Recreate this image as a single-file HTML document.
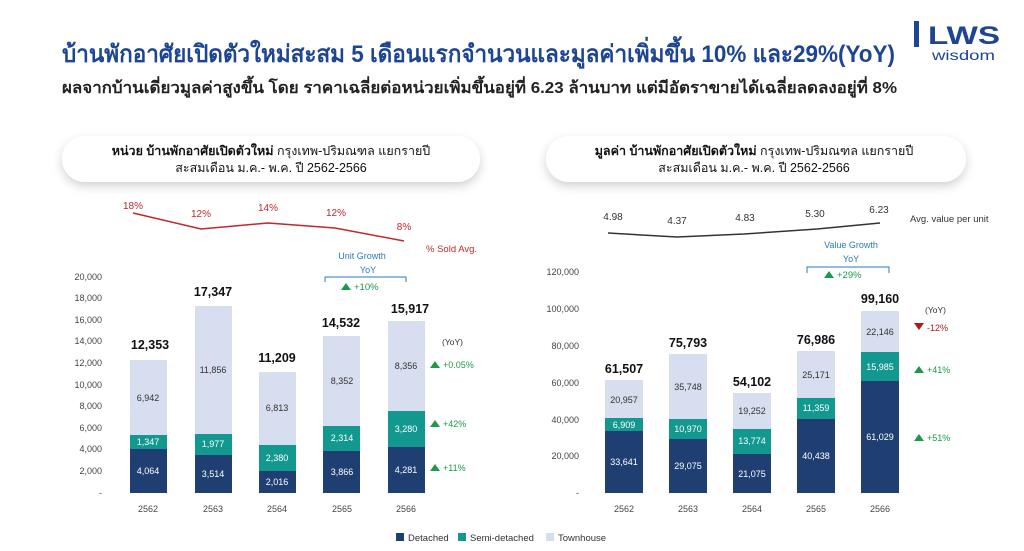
<!DOCTYPE html>
<html><head><meta charset="utf-8"><style>
html,body{margin:0;padding:0;background:#fff;}
svg{display:block;font-family:"Liberation Sans","DejaVu Sans",sans-serif;}
</style></head><body>
<svg width="1024" height="551" viewBox="0 0 1024 551" xmlns="http://www.w3.org/2000/svg">
<defs>
<filter id="sh" x="-10%" y="-40%" width="120%" height="200%"><feDropShadow dx="0" dy="4" stdDeviation="5" flood-color="#000" flood-opacity="0.18"/></filter>
</defs>
<rect width="1024" height="551" fill="#fff"/>
<!-- header -->
<text x="62" y="62" font-size="24" font-weight="bold" fill="#1d4593" textLength="833" lengthAdjust="spacingAndGlyphs">บ้านพักอาศัยเปิดตัวใหม่สะสม 5 เดือนแรกจำนวนและมูลค่าเพิ่มขึ้น 10% และ29%(YoY)</text>
<text x="62" y="93" font-size="16" font-weight="bold" fill="#222" textLength="835" lengthAdjust="spacingAndGlyphs">ผลจากบ้านเดี่ยวมูลค่าสูงขึ้น โดย ราคาเฉลี่ยต่อหน่วยเพิ่มขึ้นอยู่ที่ 6.23 ล้านบาท แต่มีอัตราขายได้เฉลี่ยลดลงอยู่ที่ 8%</text>
<rect x="914" y="21" width="5" height="26" fill="#1d4593"/>
<text x="928" y="44" font-size="25" font-weight="bold" fill="#1d4593" textLength="72" lengthAdjust="spacingAndGlyphs">LWS</text>
<text x="932" y="60" font-size="14" fill="#1d4593" textLength="63" lengthAdjust="spacingAndGlyphs">wisdom</text>

<!-- title boxes -->
<rect x="62" y="136" width="418" height="46" rx="23" fill="#fff" filter="url(#sh)"/>
<text x="271" y="155" font-size="12.5" text-anchor="middle" fill="#111"><tspan font-weight="bold">หน่วย บ้านพักอาศัยเปิดตัวใหม่</tspan> กรุงเทพ-ปริมณฑล แยกรายปี</text>
<text x="271" y="172" font-size="12.5" text-anchor="middle" fill="#111">สะสมเดือน ม.ค.- พ.ค. ปี 2562-2566</text>
<rect x="546" y="136" width="420" height="46" rx="23" fill="#fff" filter="url(#sh)"/>
<text x="754" y="155" font-size="12.5" text-anchor="middle" fill="#111"><tspan font-weight="bold">มูลค่า บ้านพักอาศัยเปิดตัวใหม่</tspan> กรุงเทพ-ปริมณฑล แยกรายปี</text>
<text x="754" y="172" font-size="12.5" text-anchor="middle" fill="#111">สะสมเดือน ม.ค.- พ.ค. ปี 2562-2566</text>

<!-- LEFT CHART -->
<g font-size="9" fill="#444" text-anchor="end">
<text x="102" y="280">20,000</text><text x="102" y="301">18,000</text><text x="102" y="323">16,000</text>
<text x="102" y="344">14,000</text><text x="102" y="366">12,000</text><text x="102" y="388">10,000</text>
<text x="102" y="409">8,000</text><text x="102" y="431">6,000</text><text x="102" y="452">4,000</text>
<text x="102" y="474">2,000</text><text x="102" y="496">-</text>
</g>
<polyline points="133,213 201,229 268,223 335,228 404,241" fill="none" stroke="#c0282d" stroke-width="1.5"/>
<g font-size="10" fill="#c0282d" text-anchor="middle">
<text x="133" y="209">18%</text><text x="201" y="217">12%</text><text x="268" y="211">14%</text><text x="336" y="216">12%</text><text x="404" y="230">8%</text>
</g>
<text x="426" y="252" font-size="9.5" fill="#c0282d">% Sold Avg.</text>
<text x="362" y="259" font-size="9" fill="#2a7ab8" text-anchor="middle">Unit Growth</text>
<text x="368" y="273" font-size="9" fill="#2a7ab8" text-anchor="middle">YoY</text>
<path d="M325,282 V277 H406 V282" fill="none" stroke="#2a7ab8" stroke-width="1"/>
<polygon points="341,290 346,283 351,290" fill="#1a9a4a"/>
<text x="354" y="290" font-size="9.5" fill="#1a9a4a">+10%</text>

<g>
<rect x="130" y="449" width="37" height="44" fill="#1f3f73"/>
<rect x="130" y="435" width="37" height="14" fill="#12988f"/>
<rect x="130" y="360" width="37" height="75" fill="#d6deef"/>
<rect x="195" y="455" width="37" height="38" fill="#1f3f73"/>
<rect x="195" y="434" width="37" height="21" fill="#12988f"/>
<rect x="195" y="306" width="37" height="128" fill="#d6deef"/>
<rect x="259" y="471" width="37" height="22" fill="#1f3f73"/>
<rect x="259" y="445" width="37" height="26" fill="#12988f"/>
<rect x="259" y="372" width="37" height="73" fill="#d6deef"/>
<rect x="323" y="451" width="37" height="42" fill="#1f3f73"/>
<rect x="323" y="426" width="37" height="25" fill="#12988f"/>
<rect x="323" y="336" width="37" height="90" fill="#d6deef"/>
<rect x="388" y="447" width="37" height="46" fill="#1f3f73"/>
<rect x="388" y="411" width="37" height="36" fill="#12988f"/>
<rect x="388" y="321" width="37" height="90" fill="#d6deef"/>
</g>
<g font-size="9" text-anchor="middle">
<text x="148" y="474" fill="#fff">4,064</text><text x="148" y="445" fill="#fff">1,347</text><text x="148" y="401" fill="#333">6,942</text>
<text x="213" y="477" fill="#fff">3,514</text><text x="213" y="447" fill="#fff">1,977</text><text x="213" y="373" fill="#333">11,856</text>
<text x="277" y="485" fill="#fff">2,016</text><text x="277" y="461" fill="#fff">2,380</text><text x="277" y="411" fill="#333">6,813</text>
<text x="342" y="475" fill="#fff">3,866</text><text x="342" y="441" fill="#fff">2,314</text><text x="342" y="384" fill="#333">8,352</text>
<text x="406" y="473" fill="#fff">4,281</text><text x="406" y="432" fill="#fff">3,280</text><text x="406" y="369" fill="#333">8,356</text>
</g>
<g font-size="12.5" font-weight="bold" fill="#111" text-anchor="middle">
<text x="150" y="349">12,353</text><text x="213" y="296">17,347</text><text x="277" y="362">11,209</text>
<text x="341" y="327">14,532</text><text x="410" y="313">15,917</text>
</g>
<text x="442" y="345" font-size="8.5" fill="#333">(YoY)</text>
<polygon points="430,368 435,361 440,368" fill="#1a9a4a"/><text x="443" y="368" font-size="9" fill="#1a9a4a">+0.05%</text>
<polygon points="430,427 435,420 440,427" fill="#1a9a4a"/><text x="443" y="427" font-size="9" fill="#1a9a4a">+42%</text>
<polygon points="430,471 435,464 440,471" fill="#1a9a4a"/><text x="443" y="471" font-size="9" fill="#1a9a4a">+11%</text>
<g font-size="9" fill="#444" text-anchor="middle">
<text x="148" y="512">2562</text><text x="213" y="512">2563</text><text x="277" y="512">2564</text><text x="342" y="512">2565</text><text x="406" y="512">2566</text>
</g>

<!-- RIGHT CHART -->
<g font-size="9" fill="#444" text-anchor="end">
<text x="579" y="275">120,000</text><text x="579" y="312">100,000</text><text x="579" y="349">80,000</text>
<text x="579" y="386">60,000</text><text x="579" y="423">40,000</text><text x="579" y="459">20,000</text><text x="579" y="496">-</text>
</g>
<polyline points="608,233 677,237 744,234 817,229 880,223" fill="none" stroke="#333" stroke-width="1.5"/>
<g font-size="10" fill="#333" text-anchor="middle">
<text x="613" y="220">4.98</text><text x="677" y="224">4.37</text><text x="745" y="221">4.83</text><text x="815" y="217">5.30</text><text x="879" y="213">6.23</text>
</g>
<text x="910" y="222" font-size="9.5" fill="#333">Avg. value per unit</text>
<text x="851" y="248" font-size="9" fill="#2a7ab8" text-anchor="middle">Value Growth</text>
<text x="851" y="262" font-size="9" fill="#2a7ab8" text-anchor="middle">YoY</text>
<path d="M807,273 V267 H889 V273" fill="none" stroke="#2a7ab8" stroke-width="1"/>
<polygon points="824,278 829,271 834,278" fill="#1a9a4a"/>
<text x="837" y="278" font-size="9.5" fill="#1a9a4a">+29%</text>
<g>
<rect x="605" y="431" width="38" height="62" fill="#1f3f73"/>
<rect x="605" y="418" width="38" height="13" fill="#12988f"/>
<rect x="605" y="380" width="38" height="38" fill="#d6deef"/>
<rect x="669" y="439" width="38" height="54" fill="#1f3f73"/>
<rect x="669" y="419" width="38" height="20" fill="#12988f"/>
<rect x="669" y="354" width="38" height="65" fill="#d6deef"/>
<rect x="733" y="454" width="38" height="39" fill="#1f3f73"/>
<rect x="733" y="429" width="38" height="25" fill="#12988f"/>
<rect x="733" y="393" width="38" height="36" fill="#d6deef"/>
<rect x="797" y="419" width="38" height="74" fill="#1f3f73"/>
<rect x="797" y="398" width="38" height="21" fill="#12988f"/>
<rect x="797" y="351" width="38" height="47" fill="#d6deef"/>
<rect x="861" y="381" width="38" height="112" fill="#1f3f73"/>
<rect x="861" y="352" width="38" height="29" fill="#12988f"/>
<rect x="861" y="311" width="38" height="41" fill="#d6deef"/>
</g>
<g font-size="9" text-anchor="middle">
<text x="624" y="465" fill="#fff">33,641</text><text x="624" y="428" fill="#fff">6,909</text><text x="624" y="403" fill="#333">20,957</text>
<text x="688" y="469" fill="#fff">29,075</text><text x="688" y="432" fill="#fff">10,970</text><text x="688" y="390" fill="#333">35,748</text>
<text x="752" y="477" fill="#fff">21,075</text><text x="752" y="444" fill="#fff">13,774</text><text x="752" y="414" fill="#333">19,252</text>
<text x="816" y="459" fill="#fff">40,438</text><text x="816" y="411" fill="#fff">11,359</text><text x="816" y="378" fill="#333">25,171</text>
<text x="880" y="440" fill="#fff">61,029</text><text x="880" y="370" fill="#fff">15,985</text><text x="880" y="335" fill="#333">22,146</text>
</g>
<g font-size="12.5" font-weight="bold" fill="#111" text-anchor="middle">
<text x="624" y="373">61,507</text><text x="688" y="347">75,793</text><text x="752" y="386">54,102</text>
<text x="816" y="344">76,986</text><text x="880" y="303">99,160</text>
</g>
<text x="925" y="313" font-size="8.5" fill="#333">(YoY)</text>
<polygon points="914,323 919,330 924,323" fill="#b0181c"/><text x="927" y="331" font-size="9" fill="#b0181c">-12%</text>
<polygon points="914,373 919,366 924,373" fill="#1a9a4a"/><text x="927" y="373" font-size="9" fill="#1a9a4a">+41%</text>
<polygon points="914,441 919,434 924,441" fill="#1a9a4a"/><text x="927" y="441" font-size="9" fill="#1a9a4a">+51%</text>
<g font-size="9" fill="#444" text-anchor="middle">
<text x="624" y="512">2562</text><text x="688" y="512">2563</text><text x="752" y="512">2564</text><text x="816" y="512">2565</text><text x="880" y="512">2566</text>
</g>

<!-- legend -->
<rect x="396" y="533" width="8" height="8" fill="#1f3f73"/><text x="408" y="541" font-size="9.5" fill="#333">Detached</text>
<rect x="458" y="533" width="8" height="8" fill="#12988f"/><text x="470" y="541" font-size="9.5" fill="#333">Semi-detached</text>
<rect x="546" y="533" width="8" height="8" fill="#d6deef"/><text x="558" y="541" font-size="9.5" fill="#333">Townhouse</text>
</svg>
</body></html>
